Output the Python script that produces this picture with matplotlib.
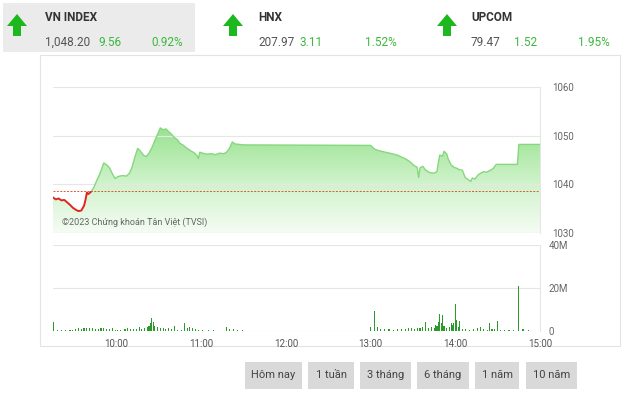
import numpy as np
import matplotlib
matplotlib.use("Agg")
import matplotlib.pyplot as plt
from matplotlib.patches import Polygon, Rectangle
from matplotlib.colors import LinearSegmentedColormap

FONT = ['Liberation Sans Narrow', 'Roboto', 'DejaVu Sans']
plt.rcParams['font.family'] = FONT

# ---- header quotes
idx_names = ["VN INDEX", "HNX", "UPCOM"]
idx_values = ["1,048.20", "207.97", "79.47"]
idx_changes = ["9.56", "3.11", "1.52"]
idx_pcts = ["0.92%", "1.52%", "1.95%"]

# ---- intraday price (VN-Index)
price_times = ["9:15", "9:17", "9:19", "9:21", "9:23", "9:25", "9:27", "9:29", "9:31", "9:33",
               "9:35", "9:37", "9:38", "9:39", "9:40", "9:42", "9:44", "9:46", "9:48", "9:50",
               "9:51", "9:53", "9:55", "9:57", "9:59", "10:01", "10:04", "10:07", "10:09", "10:11",
               "10:13", "10:15", "10:17", "10:19", "10:21", "10:23", "10:25", "10:27", "10:29", "10:31",
               "10:33", "10:35", "10:37", "10:39", "10:41", "10:43", "10:45", "10:47", "10:49", "10:51",
               "10:53", "10:55", "10:57", "10:58", "10:59", "11:01", "11:04", "11:07", "11:10", "11:13",
               "11:16", "11:18", "11:20", "11:22", "11:24", "11:27", "11:30", "13:00", "13:03", "13:06",
               "13:09", "13:12", "13:15", "13:19", "13:22", "13:25", "13:28", "13:31", "13:33", "13:34",
               "13:35", "13:37", "13:39", "13:42", "13:45", "13:47", "13:48", "13:49", "13:51", "13:52",
               "13:54", "13:55", "13:57", "13:59", "14:01", "14:03", "14:05", "14:07", "14:09", "14:11",
               "14:12", "14:14", "14:16", "14:18", "14:20", "14:22", "14:25", "14:27", "14:29", "14:44",
               "14:45", "15:00"]
price_values = [1037.3, 1036.9, 1037.1, 1036.7, 1036.8, 1036.3, 1035.8, 1035.2, 1034.8, 1034.5,
                1034.6, 1035.6, 1036.8, 1038.3, 1038.0, 1038.5, 1039.4, 1040.8, 1042.0, 1043.6,
                1044.4, 1044.0, 1043.4, 1042.2, 1041.2, 1041.6, 1041.8, 1041.7, 1042.2, 1043.5,
                1045.6, 1047.4, 1046.8, 1046.0, 1045.7, 1046.4, 1047.5, 1048.9, 1050.2, 1051.6,
                1051.2, 1051.4, 1050.8, 1050.3, 1049.6, 1049.2, 1048.4, 1048.1, 1047.6, 1047.2,
                1046.8, 1046.5, 1045.9, 1045.3, 1046.6, 1046.4, 1046.2, 1046.3, 1046.1, 1046.4,
                1046.3, 1046.6, 1047.4, 1048.7, 1048.3, 1048.2, 1048.1, 1048.0, 1047.2, 1046.9,
                1046.7, 1046.5, 1046.3, 1046.0, 1045.6, 1045.2, 1044.6, 1043.8, 1043.5, 1041.4,
                1043.4, 1043.7, 1042.9, 1042.4, 1042.3, 1042.6, 1044.5, 1046.0, 1045.8, 1046.8,
                1046.2, 1045.2, 1044.0, 1043.5, 1043.3, 1043.0, 1042.9, 1041.4, 1041.0, 1040.6,
                1041.3, 1041.1, 1041.9, 1042.3, 1042.6, 1042.5, 1042.9, 1043.3, 1044.1, 1044.1,
                1048.2, 1048.2]
ref_price = 1038.64

# ---- volume (millions)
vol_times = ["9:15", "9:18", "9:21", "9:24", "9:27", "9:29", "9:31", "9:33", "9:35", "9:37",
             "9:39", "9:41", "9:43", "9:45", "9:47", "9:49", "9:51", "9:53", "9:55", "9:57",
             "9:59", "10:01", "10:03", "10:06", "10:08", "10:10", "10:12", "10:14", "10:16", "10:18",
             "10:20", "10:22", "10:23", "10:24", "10:25", "10:26", "10:27", "10:29", "10:31", "10:33",
             "10:35", "10:37", "10:39", "10:41", "10:43", "10:46", "10:48", "10:50", "10:52", "10:54",
             "10:56", "10:58", "11:01", "11:05", "11:09", "11:13", "11:18", "11:20", "11:23", "11:26",
             "11:29", "13:00", "13:03", "13:05", "13:07", "13:10", "13:13", "13:16", "13:19", "13:22",
             "13:25", "13:27", "13:29", "13:31", "13:33", "13:35", "13:37", "13:39", "13:41", "13:43",
             "13:45", "13:46", "13:47", "13:48", "13:49", "13:50", "13:51", "13:52", "13:54", "13:56",
             "13:57", "13:58", "13:59", "14:00", "14:01", "14:02", "14:03", "14:05", "14:07", "14:10",
             "14:13", "14:16", "14:18", "14:20", "14:23", "14:24", "14:26", "14:28", "14:30", "14:32",
             "14:35", "14:38", "14:41", "14:45", "14:48", "14:52"]
vol_values = [4.4, 0.3, 0.3, 0.4, 0.4, 0.6, 0.8, 1.2, 0.9, 1.6,
              1.2, 1.5, 1.3, 1.0, 1.1, 1.2, 1.6, 1.0, 0.8, 1.4,
              0.6, 0.4, 0.5, 0.7, 1.2, 0.9, 0.8, 1.0, 1.7, 0.7,
              1.2, 2.0, 2.4, 3.5, 6.2, 4.2, 2.2, 1.8, 1.4, 1.2,
              1.0, 1.3, 0.9, 2.5, 0.5, 0.4, 3.9, 1.5, 1.8, 1.3,
              0.8, 0.5, 0.4, 0.3, 0.3, 0.2, 2.0, 0.8, 1.0, 0.6,
              0.3, 1.8, 9.3, 2.0, 1.0, 0.8, 0.7, 0.5, 0.7, 0.8,
              1.0, 1.2, 1.5, 1.0, 1.4, 1.2, 2.0, 4.0, 1.5, 1.8,
              1.6, 3.0, 2.5, 4.0, 8.0, 3.5, 7.6, 2.4, 1.2, 2.0,
              3.8, 3.0, 3.6, 12.7, 5.0, 2.0, 4.5, 1.0, 0.8, 0.6,
              0.8, 1.5, 2.0, 0.8, 0.6, 3.8, 0.7, 1.0, 4.5, 0.6,
              0.4, 0.5, 0.3, 20.8, 1.0, 0.3]

hour_ticks = ["10:00", "11:00", "12:00", "13:00", "14:00", "15:00"]
price_ticks = [1030, 1040, 1050, 1060]
vol_ticks = [0, 20, 40]
vol_tick_labels = ["0", "20M", "40M"]
buttons = ["Hôm nay", "1 tuần", "3 tháng", "6 tháng", "1 năm", "10 năm"]


def to_hours(s):
    h, m = s.split(":")
    return int(h) + int(m) / 60.0


t_price = np.array([to_hours(s) for s in price_times])
p = np.array(price_values)
t_vol = np.array([to_hours(s) for s in vol_times])
v = np.array(vol_values)
t0, t1 = 9.25, 15.0

W, H = 622, 417
fig = plt.figure(figsize=(W / 100, H / 100), dpi=100)
fig.patch.set_facecolor("white")

# ---- background overlay in pixel coords
bg = fig.add_axes([0, 0, 1, 1], zorder=0)
bg.set_xlim(0, W)
bg.set_ylim(H, 0)
bg.axis("off")
bg.add_patch(Rectangle((3, 3), 192, 49, facecolor="#ebebeb", edgecolor="none"))
bg.add_patch(Rectangle((40, 55), 580, 291, facecolor="white", edgecolor="#e3e3e3", lw=0.8))

green = "#1db81d"
arrow_x = [17, 233, 447]
text_x = [45, 258, 471]
chg_x = [98, 300, 514]
pct_x = [183, 397, 610]
for i in range(3):
    ax0 = arrow_x[i]
    bg.add_patch(Polygon([(ax0 - 10, 26), (ax0, 14), (ax0 + 10, 26), (ax0 + 4, 26),
                          (ax0 + 4, 36), (ax0 - 4, 36), (ax0 - 4, 26)],
                         closed=True, facecolor=green, edgecolor="none"))
    bg.text(text_x[i], 17, idx_names[i], fontsize=8.5, fontweight="bold", color="#333333",
            va="center", ha="left")
    bg.text(text_x[i], 42, idx_values[i], fontsize=8.5, color="#555555", va="center", ha="left")
    bg.text(chg_x[i], 42, idx_changes[i], fontsize=8.5, color="#3cb83c", va="center", ha="left")
    bg.text(pct_x[i], 42, idx_pcts[i], fontsize=8.5, color="#3cb83c", va="center", ha="right")

btn_x = [(245, 302), (308, 354), (360, 411), (417, 469), (475, 519), (526, 577)]
for (xa, xb), lab in zip(btn_x, buttons):
    bg.add_patch(Rectangle((xa, 362), xb - xa, 27, facecolor="#d9d9d9", edgecolor="none"))
    bg.text((xa + xb) / 2, 375.5, lab, fontsize=8, color="#444444", ha="center", va="center")

# ---- price axes
L, R = 53, 540
axp = fig.add_axes([L / W, 1 - 233 / H, (R - L) / W, 146 / H], zorder=1)
axp.patch.set_alpha(0)
cmap = LinearSegmentedColormap.from_list("g", ["#f5fcf4", "#cdf2c8", "#98e290"])
grad = np.linspace(0, 1, 256).reshape(-1, 1)
top = p.max()
im = axp.imshow(grad, extent=[t0, t1, 1030, top], origin="lower", aspect="auto",
                cmap=cmap, zorder=1)
poly_pts = np.vstack([np.column_stack([t_price, p]), [[t1, 1030], [t0, 1030]]])
clip = Polygon(poly_pts, closed=True, facecolor="none", edgecolor="none")
axp.add_patch(clip)
im.set_clip_path(clip)

above = Rectangle((t0, ref_price), t1 - t0, 100, transform=axp.transData)
below = Rectangle((t0, 1000), t1 - t0, ref_price - 1000, transform=axp.transData)
lg, = axp.plot(t_price, p, color="#86d77e", lw=1.0, zorder=3)
lg.set_clip_path(above)
lr, = axp.plot(t_price, p, color="#e0261f", lw=1.4, zorder=3)
lr.set_clip_path(below)
axp.axhline(ref_price, color="#e0553a", lw=0.7, ls=(0, (2, 1.5)), zorder=4)

axp.set_xlim(t0, t1)
axp.set_ylim(1030, 1060)
axp.set_yticks(price_ticks)
axp.yaxis.tick_right()
axp.tick_params(axis="y", length=0, pad=8.5, labelsize=7, labelcolor="#666666")
axp.set_xticks([])
axp.grid(axis="y", color="#e6e6e6", lw=0.8)
for s in ["top", "left", "bottom"]:
    axp.spines[s].set_visible(False)
axp.spines["right"].set_color("#e6e6e6")
axp.text(9.36, 1031.6, "©2023 Chứng khoán Tân Việt (TVSI)", fontsize=6.5,
         color="#666666", zorder=5)

# ---- volume axes
axv = fig.add_axes([L / W, 1 - 331 / H, (R - L) / W, 86 / H], zorder=1)
axv.patch.set_alpha(0)
axv.bar(t_vol, v, width=1 / 60 * 0.8, color="#2a9a2a", linewidth=0, zorder=3)
axv.axhline(0.15, color="#4caf4c", lw=0.6, zorder=2)
axv.set_xlim(t0, t1)
axv.set_ylim(0, 40)
axv.set_yticks(vol_ticks)
axv.set_yticklabels(vol_tick_labels)
axv.yaxis.tick_right()
axv.tick_params(axis="y", length=0, pad=6, labelsize=7, labelcolor="#666666")
axv.set_xticks([to_hours(s) for s in hour_ticks])
axv.set_xticklabels(hour_ticks)
axv.tick_params(axis="x", length=0, pad=6, labelsize=7, labelcolor="#555555")
axv.grid(axis="y", color="#e6e6e6", lw=0.8)
for s in ["top", "left", "bottom"]:
    axv.spines[s].set_visible(False)
axv.spines["right"].set_color("#e6e6e6")

fig.savefig("out.png", dpi=100)
